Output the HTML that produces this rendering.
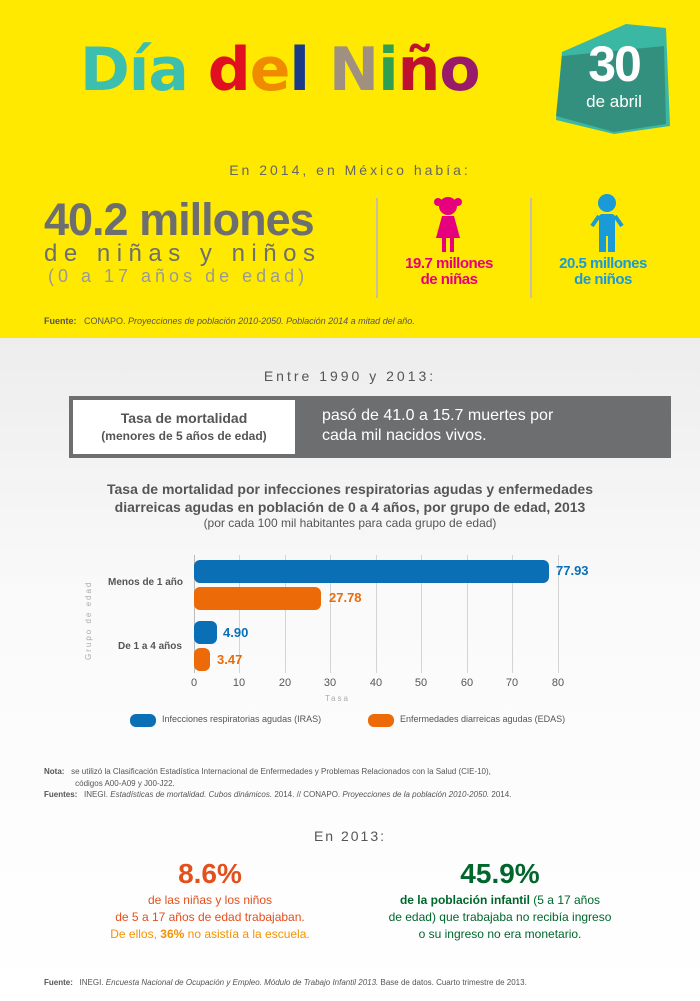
<!DOCTYPE html>
<html><head><meta charset="utf-8"><style>
*{margin:0;padding:0;box-sizing:border-box}
body{width:700px;height:1001px;overflow:hidden;font-family:"Liberation Sans",sans-serif;background:#fff;position:relative}
.a{position:absolute;white-space:nowrap}
.top{position:absolute;left:0;top:0;width:700px;height:338px;background:#ffe900}
.low{position:absolute;left:0;top:338px;width:700px;height:663px;background:linear-gradient(#ededed,#fafafa 40%,#fff)}
.c{text-align:center}
.gl{position:absolute;top:555px;width:1px;height:118px;background:#d4d4d4}
.bar{position:absolute;height:23px;border-radius:6px}
</style></head><body>
<div class="top"></div><div class="low"></div>
<div class="a" style="left:80px;top:32px;font-size:60px;font-family:'DejaVu Sans',sans-serif;font-weight:bold;line-height:76px;letter-spacing:-1px">
<span style="color:#3dbfb0">Día</span> <span style="color:#e01020">d</span><span style="color:#f08a00">e</span><span style="color:#1a3a8a">l</span> <span style="color:#a09080">N</span><span style="color:#30a050">i</span><span style="color:#c01030">ñ</span><span style="color:#9a1a6a">o</span></div>
<svg class="a" style="left:554px;top:16px" width="120" height="120"><polygon points="8,36 72,8 112,12 116,110 60,118 2,104" fill="#3bb8a4"/><polygon points="8,40 110,30 112,108 60,116 2,100" fill="#33907f"/></svg>
<div class="a c" style="left:574px;top:38px;width:80px;color:#fff;font-size:50px;font-weight:bold;line-height:52px;letter-spacing:-2px">30</div>
<div class="a c" style="left:574px;top:92px;width:80px;color:#fff;font-size:17px">de abril</div>
<div class="a c" style="left:0;top:162px;width:700px;color:#666;font-size:14px;letter-spacing:3px">En 2014, en México había:</div>
<div class="a" style="left:44px;top:194px;color:#6d6e70;font-size:45px;font-weight:bold;letter-spacing:-1px">40.2 millones</div>
<div class="a" style="left:44px;top:240px;color:#6d6e70;font-size:24px;letter-spacing:6.5px">de niñas y niños</div>
<div class="a" style="left:48px;top:266px;color:#999;font-size:18px;letter-spacing:4px">(0 a 17 años de edad)</div>
<div class="a" style="left:376px;top:198px;width:2px;height:100px;background:#c8c0a0"></div>
<div class="a" style="left:530px;top:198px;width:2px;height:100px;background:#c8c0a0"></div>
<svg class="a" style="left:432px;top:194px" width="32" height="60"><circle cx="16" cy="12" r="9" fill="#e6007e"/><circle cx="6" cy="8" r="4" fill="#e6007e"/><circle cx="26" cy="8" r="4" fill="#e6007e"/><polygon points="10,22 22,22 28,44 4,44" fill="#e6007e"/><rect x="10" y="44" width="4" height="14" fill="#e6007e"/><rect x="18" y="44" width="4" height="14" fill="#e6007e"/></svg>
<svg class="a" style="left:590px;top:192px" width="34" height="62"><circle cx="17" cy="11" r="9" fill="#1a9ad6"/><rect x="9" y="22" width="16" height="22" rx="3" fill="#1a9ad6"/><rect x="9" y="40" width="7" height="20" fill="#1a9ad6"/><rect x="18" y="40" width="7" height="20" fill="#1a9ad6"/><path d="M9 24 L2 34 M25 24 L32 34" stroke="#1a9ad6" stroke-width="4"/></svg>
<div class="a c" style="left:384px;top:256px;width:130px;color:#e6007e;font-size:15px;font-weight:bold;line-height:16px;letter-spacing:-0.5px">19.7 millones<br>de niñas</div>
<div class="a c" style="left:538px;top:256px;width:130px;color:#1a9ad6;font-size:15px;font-weight:bold;line-height:16px;letter-spacing:-0.5px">20.5 millones<br>de niños</div>
<div class="a" style="left:44px;top:316px;color:#555;font-size:9px"><b>Fuente:</b>&nbsp;&nbsp; CONAPO. <i>Proyecciones de población 2010-2050. Población 2014 a mitad del año.</i></div>

<div class="a c" style="left:0;top:368px;width:700px;color:#555;font-size:14px;letter-spacing:3px">Entre 1990 y 2013:</div>
<div class="a" style="left:69px;top:396px;width:602px;height:62px;background:#6d6e70"></div>
<div class="a" style="left:73px;top:400px;width:222px;height:54px;background:#fff"></div>
<div class="a c" style="left:73px;top:410px;width:222px;color:#555;font-size:14px;font-weight:bold">Tasa de mortalidad</div>
<div class="a c" style="left:73px;top:429px;width:222px;color:#555;font-size:12px;font-weight:bold">(menores de 5 años de edad)</div>
<div class="a" style="left:322px;top:406px;color:#fff;font-size:16px;line-height:20px">pasó de 41.0 a 15.7 muertes por<br>cada mil nacidos vivos.</div>
<div class="a c" style="left:0;top:480px;width:700px;color:#555;font-size:14px;font-weight:bold;line-height:18px">Tasa de mortalidad por infecciones respiratorias agudas y enfermedades<br>diarreicas agudas en población de 0 a 4 años, por grupo de edad, 2013</div>
<div class="a c" style="left:0;top:516px;width:700px;color:#555;font-size:12px">(por cada 100 mil habitantes para cada grupo de edad)</div>
<div class="gl" style="left:194px;background:#bbb"></div><div class="gl" style="left:239px"></div><div class="gl" style="left:285px"></div><div class="gl" style="left:330px"></div><div class="gl" style="left:376px"></div><div class="gl" style="left:421px"></div><div class="gl" style="left:467px"></div><div class="gl" style="left:512px"></div><div class="gl" style="left:558px"></div>
<div class="bar" style="left:194px;top:560px;width:355px;background:#0a6fb4"></div>
<div class="bar" style="left:194px;top:587px;width:127px;background:#ec6a07"></div>
<div class="bar" style="left:194px;top:621px;width:23px;background:#0a6fb4"></div>
<div class="bar" style="left:194px;top:648px;width:16px;background:#ec6a07"></div>
<div class="a" style="left:556px;top:563px;color:#0a6fb4;font-size:13px;font-weight:bold">77.93</div>
<div class="a" style="left:329px;top:590px;color:#ec6a07;font-size:13px;font-weight:bold">27.78</div>
<div class="a" style="left:223px;top:625px;color:#0a6fb4;font-size:13px;font-weight:bold">4.90</div>
<div class="a" style="left:217px;top:652px;color:#ec6a07;font-size:13px;font-weight:bold">3.47</div>
<div class="a" style="left:108px;top:577px;color:#555;font-size:10px;font-weight:bold">Menos de 1 año</div>
<div class="a" style="left:118px;top:641px;color:#555;font-size:10px;font-weight:bold">De 1 a 4 años</div>
<div class="a" style="left:84px;top:660px;color:#aaa;font-size:8px;letter-spacing:2px;transform:rotate(-90deg);transform-origin:0 0">Grupo de edad</div>
<div class="a" style="left:0;top:677px;width:700px;color:#555;font-size:11px">
<span class="a c" style="left:184px;width:20px">0</span><span class="a c" style="left:229px;width:20px">10</span><span class="a c" style="left:275px;width:20px">20</span><span class="a c" style="left:320px;width:20px">30</span><span class="a c" style="left:366px;width:20px">40</span><span class="a c" style="left:411px;width:20px">50</span><span class="a c" style="left:457px;width:20px">60</span><span class="a c" style="left:502px;width:20px">70</span><span class="a c" style="left:548px;width:20px">80</span></div>
<div class="a" style="left:325px;top:694px;color:#aaa;font-size:8px;letter-spacing:2px">Tasa</div>
<div class="a" style="left:130px;top:714px;width:26px;height:13px;border-radius:6px;background:#0a6fb4"></div>
<div class="a" style="left:162px;top:714px;color:#555;font-size:9px">Infecciones respiratorias agudas (IRAS)</div>
<div class="a" style="left:368px;top:714px;width:26px;height:13px;border-radius:6px;background:#ec6a07"></div>
<div class="a" style="left:400px;top:714px;color:#555;font-size:9px">Enfermedades diarreicas agudas (EDAS)</div>
<div class="a" style="left:44px;top:766px;color:#555;font-size:8px;line-height:12px"><b>Nota:</b>&nbsp;&nbsp; se utilizó la Clasificación Estadística Internacional de Enfermedades y Problemas Relacionados con la Salud (CIE-10),<br>&nbsp;&nbsp;&nbsp;&nbsp;&nbsp;&nbsp;&nbsp;&nbsp;&nbsp;&nbsp;&nbsp;&nbsp;&nbsp;&nbsp;códigos A00-A09 y J00-J22.</div>
<div class="a" style="left:44px;top:790px;color:#555;font-size:8px"><b>Fuentes:</b>&nbsp;&nbsp; INEGI. <i>Estadísticas de mortalidad. Cubos dinámicos.</i> 2014. // CONAPO. <i>Proyecciones de la población 2010-2050.</i> 2014.</div>
<div class="a c" style="left:0;top:828px;width:700px;color:#555;font-size:14px;letter-spacing:2px">En 2013:</div>
<div class="a c" style="left:90px;top:858px;width:240px;color:#e2501e;font-size:28px;font-weight:bold">8.6%</div>
<div class="a c" style="left:90px;top:892px;width:240px;color:#e2501e;font-size:12px;line-height:17px">de las niñas y los niños<br>de 5 a 17 años de edad trabajaban.<br><span style="color:#f39200">De ellos, <b>36%</b> no asistía a la escuela.</span></div>
<div class="a c" style="left:350px;top:858px;width:300px;color:#00662c;font-size:28px;font-weight:bold">45.9%</div>
<div class="a c" style="left:350px;top:892px;width:300px;color:#00662c;font-size:12px;line-height:17px"><b>de la población infantil</b> (5 a 17 años<br>de edad) que trabajaba no recibía ingreso<br>o su ingreso no era monetario.</div>
<div class="a" style="left:44px;top:978px;color:#555;font-size:8px"><b>Fuente:</b>&nbsp;&nbsp; INEGI. <i>Encuesta Nacional de Ocupación y Empleo. Módulo de Trabajo Infantil 2013.</i> Base de datos. Cuarto trimestre de 2013.</div>
</body></html>
